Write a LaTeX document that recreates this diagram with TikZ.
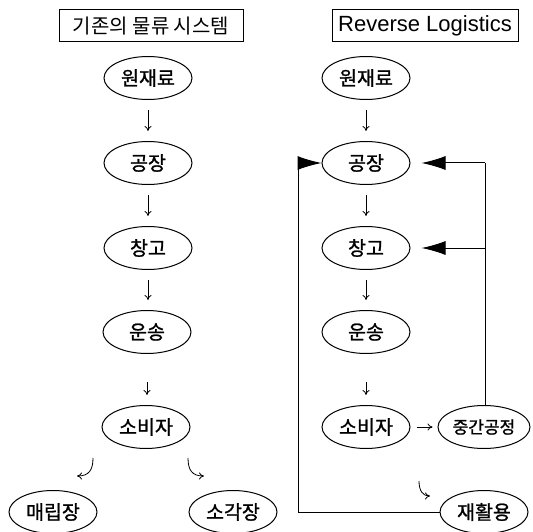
\documentclass[tikz,border=0pt]{standalone}
\usepackage{fontspec}
\setmainfont{Liberation Sans}
\newfontfamily\kr{Noto Sans CJK KR}
\newfontfamily\krnode[FakeBold=1.2]{Noto Sans CJK KR}
\usetikzlibrary{arrows.meta,shapes.geometric}
\begin{document}
\begin{tikzpicture}[x=1pt,y=-1pt,
  stage/.style={ellipse,draw,line width=1pt,minimum width=88pt,minimum height=43pt,
    inner sep=0pt,font=\krnode\fontsize{19.5}{19.5}\selectfont},
  titlebox/.style={draw,line width=1pt,minimum height=32pt,inner sep=0pt},
  flow/.style={-{To[length=5pt,width=7pt]},line width=0.8pt},
  feed/.style={-{Latex[length=24pt,width=14pt]},line width=1pt},
  loop/.style={line width=1pt}]
\useasboundingbox (0,0) rectangle (533,532);
\fill[white] (0,0) rectangle (533,532);

% titles
\node[titlebox,minimum width=184pt,font=\kr\fontsize{20}{20}\selectfont] (ltitle) at (151,26) {기존의 물류 시스템};
\node[titlebox,minimum width=186pt,font=\fontsize{22}{22}\selectfont] (rtitle) at (425,26) {Reverse Logistics};

% conventional chain
\node[stage] (lraw) at (148,78) {원재료};
\node[stage] (lfac) at (148,163) {공장};
\node[stage] (lwh)  at (148,248) {창고};
\node[stage] (ltr)  at (147,332) {운송};
\node[stage] (lcon) at (146,427) {소비자};
\node[stage] (land) at (53,512) {매립장};
\node[stage] (linc) at (233,512) {소각장};

\draw[flow] ([yshift=-10pt]lraw.south) -- ([yshift=10pt]lraw.south |- lfac.north);
\draw[flow] ([yshift=-10pt]lfac.south) -- ([yshift=10pt]lfac.south |- lwh.north);
\draw[flow] ([yshift=-10pt]lwh.south)  -- ([yshift=10pt]lwh.south |- ltr.north);
\draw[flow] ([yshift=-28pt]ltr.south) -- ([yshift=10pt]ltr.south |- lcon.north);

\coordinate (lh1s) at (93,458);
\coordinate (lh1e) at (77,476);
\coordinate (lh2s) at (188,458);
\coordinate (lh2e) at (204,476);
\draw[flow] (lh1s) .. controls (93,470) and (89,476) .. (lh1e);
\draw[flow] (lh2s) .. controls (188,470) and (192,476) .. (lh2e);

% reverse chain
\node[stage] (rraw) at (366,78) {원재료};
\node[stage] (rfac) at (366,163) {공장};
\node[stage] (rwh)  at (366,248) {창고};
\node[stage] (rtr)  at (366,332) {운송};
\node[stage] (rcon) at (366,427) {소비자};
\node[stage,minimum width=92pt,font=\krnode\fontsize{17}{17}\selectfont] (rmid) at (484,427) {중간공정};
\node[stage] (rrec) at (484,512) {재활용};

\draw[flow] ([yshift=-10pt]rraw.south) -- ([yshift=10pt]rraw.south |- rfac.north);
\draw[flow] ([yshift=-10pt]rfac.south) -- ([yshift=10pt]rfac.south |- rwh.north);
\draw[flow] ([yshift=-10pt]rwh.south)  -- ([yshift=10pt]rwh.south |- rtr.north);
\draw[flow] ([yshift=-28pt]rtr.south) -- ([yshift=10pt]rtr.south |- rcon.north);
\draw[flow] ([xshift=6pt]rcon.east) -- ([xshift=-5pt]rmid.west);

\coordinate (rhs) at (419,481);
\coordinate (rhe) at (430,496);
\draw[flow] (rhs) .. controls (419,491) and (423,496) .. (rhe);

% return loops
\coordinate (rbl) at (298,512);
\coordinate (rtl) at (298,163);
\draw[loop] (rrec.west) -- (rbl) -- (rtl);
\draw[feed] (rtl) -- (rfac.west);

\coordinate (rtr2) at (485,163);
\coordinate (rmr2) at (485,248);
\draw[loop] (rmid.north -| rtr2) -- (rtr2);
\draw[feed,shorten >=11pt] (rtr2) -- (rfac.east);
\draw[feed,shorten >=11pt] (rmr2) -- (rwh.east);
\end{tikzpicture}
\end{document}
